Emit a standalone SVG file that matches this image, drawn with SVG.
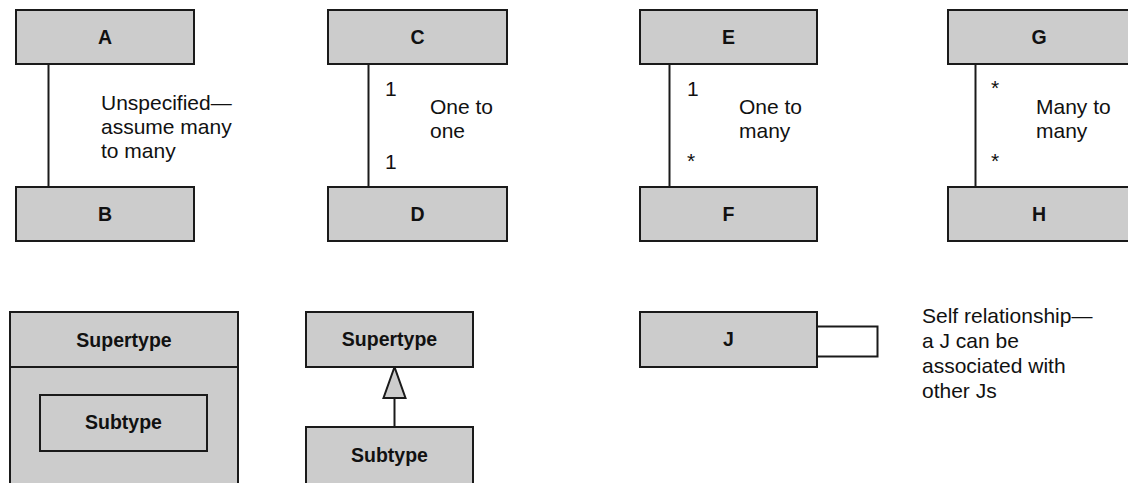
<svg xmlns="http://www.w3.org/2000/svg" width="1128" height="483" viewBox="0 0 1128 483">
  <style>
    .box { fill: #cccccc; stroke: #1a1a1a; stroke-width: 2; }
    .line { fill: none; stroke: #1a1a1a; stroke-width: 2; }
    .name { font-family: "Liberation Sans", Arial, sans-serif; font-weight: bold; font-size: 19.5px; fill: #111; text-anchor: middle; }
    .note { font-family: "Liberation Sans", Arial, sans-serif; font-size: 21px; fill: #111; }
  </style>
  <rect width="1128" height="483" fill="#ffffff"/>

  <!-- connectors -->
  <g id="connectors">
    <line class="line" x1="48.5" y1="64" x2="48.5" y2="187"/>
    <line class="line" x1="368.5" y1="64" x2="368.5" y2="187"/>
    <line class="line" x1="669.5" y1="64" x2="669.5" y2="187"/>
    <line class="line" x1="975.5" y1="64" x2="975.5" y2="187"/>
    <!-- generalization -->
    <line class="line" x1="394.5" y1="398" x2="394.5" y2="427"/>
    <polygon points="394.5,367 383.5,398 405.5,398" fill="#cccccc" stroke="#1a1a1a" stroke-width="2" stroke-linejoin="miter"/>
    <!-- self relationship -->
    <path class="line" d="M817,326.5 H877.5 V356.5 H817"/>
  </g>

  <!-- multiplicity and notes -->
  <g id="labels">
    <text class="note" x="101" y="110">Unspecified—</text>
    <text class="note" x="101" y="134">assume many</text>
    <text class="note" x="101" y="158">to many</text>

    <text class="note" x="385" y="96">1</text>
    <text class="note" x="385" y="169">1</text>
    <text class="note" x="430" y="114">One to</text>
    <text class="note" x="430" y="138">one</text>

    <text class="note" x="687" y="96">1</text>
    <text class="note" x="687" y="168">*</text>
    <text class="note" x="739" y="114">One to</text>
    <text class="note" x="739" y="138">many</text>

    <text class="note" x="991" y="95">*</text>
    <text class="note" x="991" y="168">*</text>
    <text class="note" x="1036" y="114">Many to</text>
    <text class="note" x="1036" y="138">many</text>

    <text class="note" x="922" y="323">Self relationship—</text>
    <text class="note" x="922" y="348">a J can be</text>
    <text class="note" x="922" y="373">associated with</text>
    <text class="note" x="922" y="398">other Js</text>
  </g>

  <g id="A"><rect class="box" x="16" y="10" width="178" height="54"/><text class="name" x="105" y="44">A</text></g>
  <g id="B"><rect class="box" x="16" y="187" width="178" height="54"/><text class="name" x="105" y="221">B</text></g>
  <g id="C"><rect class="box" x="328" y="10" width="179" height="54"/><text class="name" x="417.5" y="44">C</text></g>
  <g id="D"><rect class="box" x="328" y="187" width="179" height="54"/><text class="name" x="417.5" y="221">D</text></g>
  <g id="E"><rect class="box" x="640" y="10" width="177" height="54"/><text class="name" x="728.5" y="44">E</text></g>
  <g id="F"><rect class="box" x="640" y="187" width="177" height="54"/><text class="name" x="728.5" y="221">F</text></g>
  <g id="G"><rect class="box" x="948" y="10" width="184" height="54"/><text class="name" x="1039" y="44">G</text></g>
  <g id="H"><rect class="box" x="948" y="187" width="184" height="54"/><text class="name" x="1039" y="221">H</text></g>

  <!-- nested subtype notation -->
  <g id="supertype-nested">
    <rect class="box" x="10" y="312" width="228" height="180"/>
    <line class="line" x1="10" y1="367" x2="238" y2="367"/>
    <text class="name" x="124" y="347">Supertype</text>
    <g id="subtype-nested">
      <rect class="box" x="40" y="395" width="167" height="56"/>
      <text class="name" x="123.5" y="429">Subtype</text>
    </g>
  </g>

  <!-- generalization notation -->
  <g id="supertype"><rect class="box" x="306" y="312" width="167" height="55"/><text class="name" x="389.5" y="346">Supertype</text></g>
  <g id="subtype"><rect class="box" x="306" y="427" width="167" height="65"/><text class="name" x="389.5" y="462">Subtype</text></g>

  <g id="J"><rect class="box" x="640" y="312" width="177" height="55"/><text class="name" x="728.5" y="346">J</text></g>
</svg>
